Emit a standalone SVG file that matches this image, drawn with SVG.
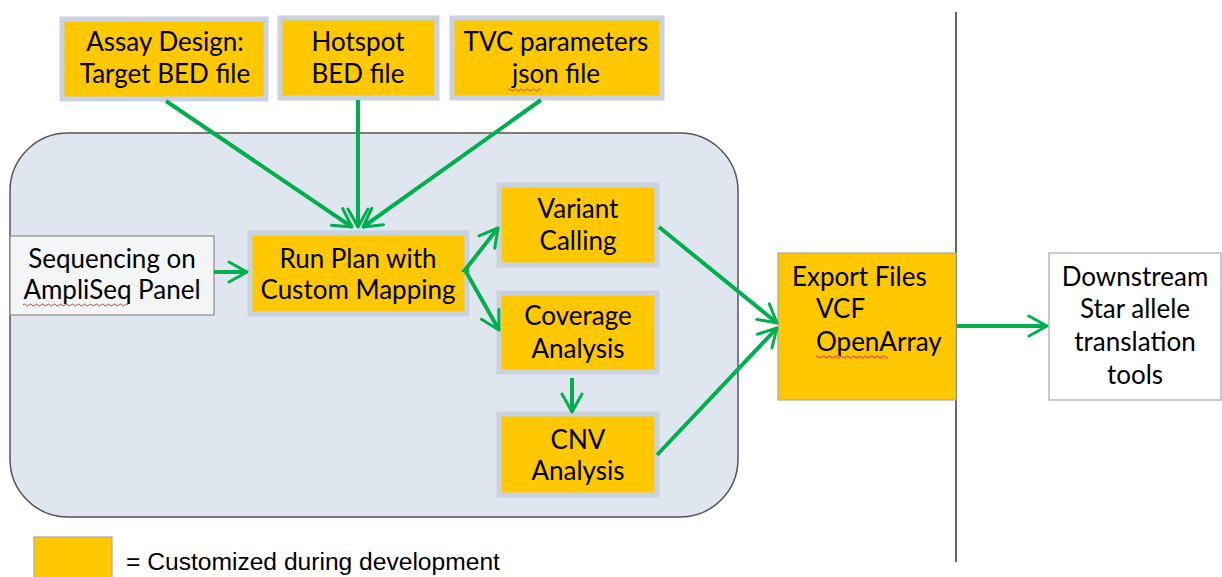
<svg xmlns="http://www.w3.org/2000/svg" width="1222" height="577" viewBox="0 0 1222 577">
<style>
.t{font-family:Lato,"Open Sans","Liberation Sans",sans-serif;font-size:26px;fill:#000;text-anchor:middle}
.tl{font-family:Lato,"Open Sans","Liberation Sans",sans-serif;font-size:26px;fill:#000}
.y{fill:#FFC800;stroke:#C8D2E2;stroke-width:5}
.c{stroke:#00B050;stroke-width:4;fill:none;marker-end:url(#ah)}
.sq{stroke:#E03030;stroke-width:1;fill:none}
</style>
<defs>
<marker id="ah" viewBox="0 0 12 12" refX="10" refY="6" markerWidth="6" markerHeight="6" orient="auto" markerUnits="strokeWidth">
<path d="M1,1 L10,6 L1,11" fill="none" stroke="#00B050" stroke-width="1.5" stroke-linecap="round" stroke-linejoin="round"/>
</marker>
</defs>
<rect width="1222" height="577" fill="#fff"/>
<g id="container"><rect x="10" y="133" width="728" height="384" rx="58" ry="58" fill="#E0E6EF" stroke="#555" stroke-width="1.5"/></g>
<g id="divider"><line x1="956" y1="12" x2="956" y2="562" stroke="#333" stroke-width="1.5"/></g>
<g id="assay"><rect class="y" x="62" y="19" width="204" height="80"/><text class="t" x="165" y="51">Assay Design:</text><text class="t" x="165" y="83">Target BED file</text></g>
<g id="hotspot"><rect class="y" x="280" y="18" width="157" height="80"/><text class="t" x="358" y="51">Hotspot</text><text class="t" x="358" y="83">BED file</text></g>
<g id="tvc"><rect class="y" x="452" y="18" width="210" height="80"/><text class="t" x="556" y="51">TVC parameters</text><text class="t" x="556" y="83">json file</text><path class="sq" d="M508,90 q1.5,-2 3,0 t3,0 t3,0 t3,0 t3,0 t3,0 t3,0 t3,0 t3,0 t3,0 t3,0"/></g>
<g id="sequencing"><rect x="10" y="236" width="204" height="79" fill="#F4F5F7" stroke="#8A8A8A" stroke-width="1.2"/><text class="t" x="112" y="268">Sequencing on</text><text class="t" x="112" y="299">AmpliSeq Panel</text><path class="sq" d="M23,305 q1.5,-2 3,0 t3,0 t3,0 t3,0 t3,0 t3,0 t3,0 t3,0 t3,0 t3,0 t3,0 t3,0 t3,0 t3,0 t3,0 t3,0 t3,0 t3,0 t3,0 t3,0 t3,0 t3,0 t3,0 t3,0 t3,0 t3,0 t3,0 t3,0 t3,0 t3,0 t3,0 t3,0 t3,0 t3,0 t3,0"/></g>
<g id="runplan"><rect class="y" x="250" y="233" width="217" height="81"/><text class="t" x="358" y="268">Run Plan with</text><text class="t" x="358" y="299">Custom Mapping</text></g>
<g id="variant"><rect class="y" x="499" y="185" width="158" height="80"/><text class="t" x="578" y="218">Variant</text><text class="t" x="578" y="250">Calling</text></g>
<g id="coverage"><rect class="y" x="499" y="293" width="158" height="79"/><text class="t" x="578" y="325">Coverage</text><text class="t" x="578" y="358">Analysis</text></g>
<g id="cnv"><rect class="y" x="499" y="414" width="158" height="81"/><text class="t" x="578" y="449">CNV</text><text class="t" x="578" y="480">Analysis</text></g>
<g id="export"><rect x="778" y="253" width="178" height="147" fill="#FFC800" stroke="#A8A8A8" stroke-width="1.2"/><text class="tl" x="792" y="286">Export Files</text><text class="tl" x="816" y="318">VCF</text><text class="tl" x="816" y="351">OpenArray</text><path class="sq" d="M816,357 q1.5,-2 3,0 t3,0 t3,0 t3,0 t3,0 t3,0 t3,0 t3,0 t3,0 t3,0 t3,0 t3,0 t3,0 t3,0 t3,0 t3,0 t3,0 t3,0 t3,0 t3,0 t3,0 t3,0 t3,0 t3,0"/></g>
<g id="downstream"><rect x="1049" y="253" width="172" height="147" fill="#fff" stroke="#A8A8A8" stroke-width="1.2"/><text class="t" x="1135" y="286">Downstream</text><text class="t" x="1135" y="318">Star allele</text><text class="t" x="1135" y="351">translation</text><text class="t" x="1135" y="384">tools</text></g>
<g id="connectors">
<line class="c" x1="166" y1="101" x2="352" y2="227"/>
<line class="c" x1="358" y1="100" x2="358" y2="227"/>
<line class="c" x1="541" y1="100" x2="363" y2="227"/>
<line class="c" x1="214" y1="272" x2="247" y2="272"/>
<polyline class="c" points="469,270 465,270 498,228"/>
<line class="c" x1="465" y1="270" x2="499" y2="330"/>
<line class="c" x1="572" y1="378" x2="572" y2="412"/>
<line class="c" x1="659" y1="227" x2="777" y2="323"/>
<line class="c" x1="657" y1="455" x2="777" y2="328"/>
<line class="c" x1="957" y1="326" x2="1047" y2="326"/>
</g>
<g id="legend"><rect x="34" y="537" width="78" height="45" fill="#FFC800" stroke="#A8A8A8" stroke-width="1.2"/><text x="126" y="570" font-family="Liberation Sans,Arial,sans-serif" font-size="24.6" fill="#000">= Customized during development</text></g>
</svg>
